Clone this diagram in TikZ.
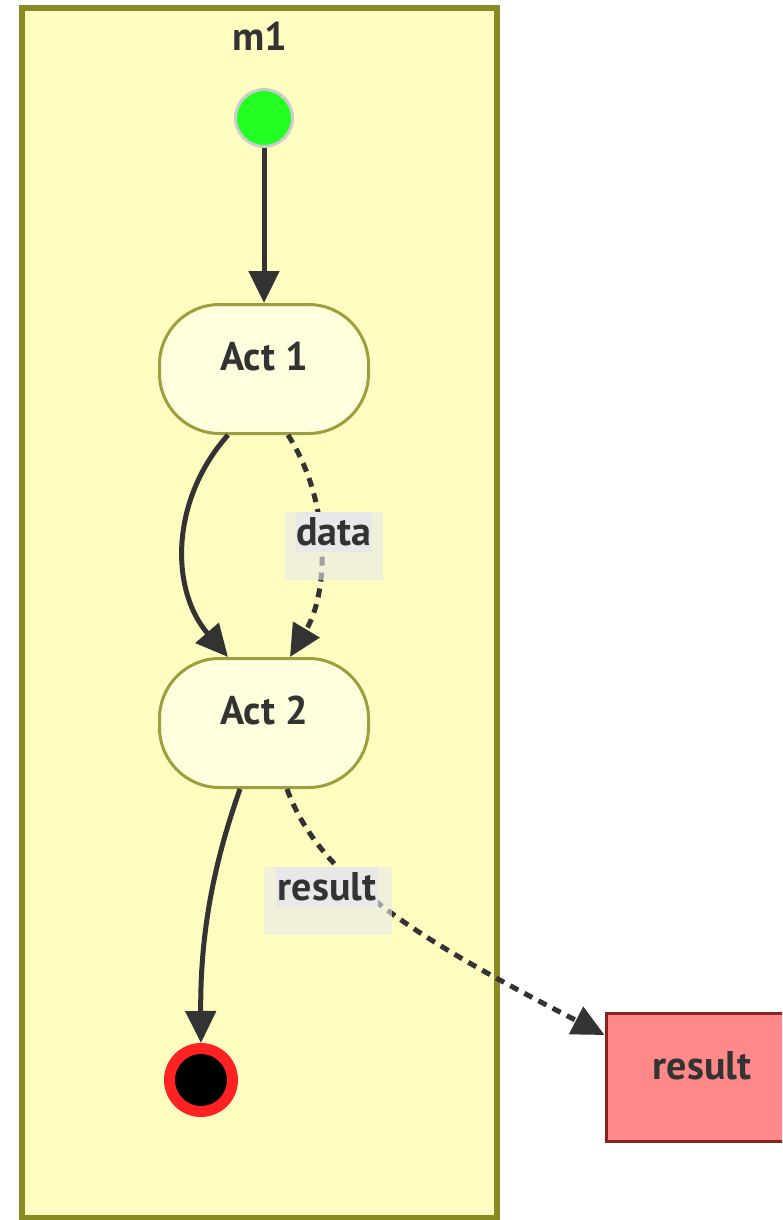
\documentclass[tikz,border=0pt]{standalone}
\usepackage{fontspec}
\setmainfont{PT Sans}
\usetikzlibrary{arrows.meta,calc}
\definecolor{ink}{HTML}{333333}
\definecolor{clusterfill}{HTML}{FFFDC0}
\definecolor{clusterline}{HTML}{8A8A22}
\definecolor{actfill}{HTML}{FFFFDE}
\definecolor{actline}{HTML}{9E9E3E}
\definecolor{startfill}{HTML}{22FF22}
\definecolor{startline}{HTML}{CCCCCC}
\definecolor{endring}{HTML}{FF2222}
\definecolor{resfill}{HTML}{FF8888}
\definecolor{resline}{HTML}{8B2222}
\definecolor{labelbg}{HTML}{E8E8E8}
\tikzset{
  txt/.style={font=\fontsize{40}{46}\selectfont\bfseries, text=ink},
  cluster/.style={draw=clusterline, fill=clusterfill, line width=6pt,
    minimum width=475pt, minimum height=1210pt, inner sep=0pt},
  act/.style={txt, draw=actline, fill=actfill, line width=3pt,
    rounded corners=60pt, minimum width=209pt, minimum height=129pt},
  startnode/.style={circle, draw=startline, fill=startfill, line width=3pt,
    minimum size=57pt, inner sep=0pt},
  endnode/.style={circle, draw=endring, fill=black, line width=11pt,
    minimum size=63pt, inner sep=0pt},
  resbox/.style={txt, draw=resline, fill=resfill, line width=3pt,
    minimum width=192pt, minimum height=128pt},
  flow/.style={draw=ink, line width=5pt,
    -{Triangle[length=32pt,width=30pt]}},
  dataflow/.style={flow, dash pattern=on 9pt off 7pt},
  lblback/.style={fill=labelbg, fill opacity=0.6, inner sep=0pt},
  lbltext/.style={txt, fill=labelbg, inner sep=0pt},
}
\begin{document}
\begin{tikzpicture}[x=1pt,y=-1pt]
  \clip (0,0) rectangle (782,1220);
  \fill[white] (0,0) rectangle (782,1220);

  % container and its title
  \node[cluster] (m1) at (259.5,613) {};
  \node[txt] (m1title) at (260,36) {m1};

  % states
  \node[act] (a1) at (264,369) {\raisebox{25pt}{Act 1}};
  \node[act] (a2) at (264,723) {\raisebox{25pt}{Act 2}};
  \node[startnode] (s) at (264,118) {};
  \node[endnode] (e) at (201,1080) {};
  \node[resbox] (r) at (702,1077.5) {\raisebox{25pt}{result}};

  % control flow
  \draw[flow] (s) -- (a1);
  \draw[flow] ($(a1.south)+(-36,0)$) .. controls (170,500) and (170,590) .. ($(a2.north)+(-36,0)$);
  \draw[flow] ($(a2.south)+(-24,0)$) .. controls (215,860) and (200,930) .. (e.north);

  % object flow
  \draw[dataflow] ($(a1.south)+(24,0)$) .. controls (330,500) and (330,590) .. ($(a2.north)+(26,0)$);
  \draw[dataflow] ($(a2.south)+(23,0)$) .. controls (320,880) and (420,940) .. ($(r.north west)+(0,23)$);

  % edge labels
  \node[lblback, minimum width=98pt, minimum height=68pt] (databack) at (334,546) {};
  \node[lbltext, minimum width=76pt, minimum height=40pt] (datalbl) at (334,532) {data};
  \node[lblback, minimum width=128pt, minimum height=68pt] (resback) at (328,901) {};
  \node[lbltext, minimum width=102pt, minimum height=40pt] (reslbl) at (327,887) {result};
\end{tikzpicture}
\end{document}
